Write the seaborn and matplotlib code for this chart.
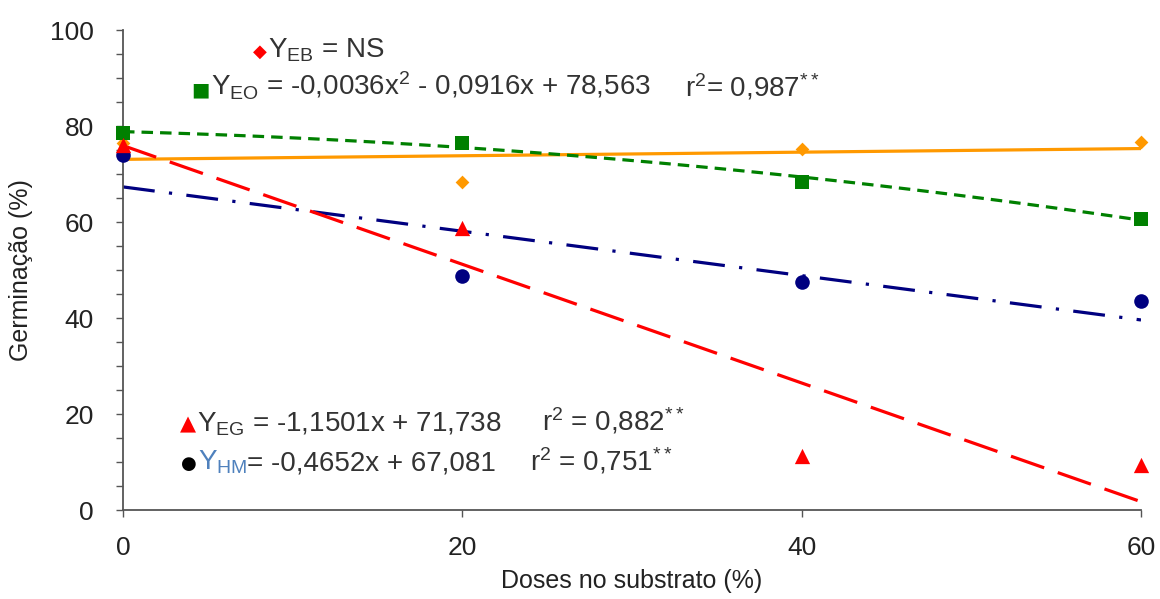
import numpy as np
import pandas as pd
import matplotlib
matplotlib.use("Agg")
import matplotlib.pyplot as plt
import seaborn as sns

# ---- data ----
doses = [0, 20, 40, 60]
eb = [76.5, 68.3, 75.2, 76.7]   # orange diamonds (NS)
eo = [78.5, 76.5, 68.4, 60.7]   # green squares (quadratic)
eg = [76.0, 58.7, 11.2, 9.4]    # red triangles (linear)
hm = [74.0, 48.7, 47.5, 43.6]   # navy circles (linear)

x_ticks = [0, 20, 40, 60]
y_ticks = [0, 20, 40, 60, 80, 100]

sns.set_theme(style="white")
plt.rcParams['font.family'] = ['Liberation Sans', 'DejaVu Sans']
plt.rcParams['mathtext.fontset'] = 'custom'
plt.rcParams['mathtext.rm'] = 'Liberation Sans'
plt.rcParams['mathtext.it'] = 'Liberation Sans'

W, H = 1160, 599
fig = plt.figure(figsize=(W / 100, H / 100), dpi=100)
ax = fig.add_axes([123 / W, 1 - 510 / H, (1141 - 123) / W, (510 - 30) / H])

df = pd.DataFrame({"dose": doses, "eb": eb, "eo": eo, "eg": eg, "hm": hm})

C_OR = "#FF9900"
C_GR = "#008000"
C_RD = "#FF0000"
C_NV = "#000080"
lw = 2.3

series = [
    ("eb", 1, C_OR, "D", 7, "-", 2.6),
    ("hm", 1, C_NV, "o", 10.5, (0, (10, 4.5, 1, 4.5)), 3),
    ("eg", 1, C_RD, "^", 11, (0, (11, 4.5)), 3.2),
    ("eo", 2, C_GR, "s", 10, (0, (3.6, 2.2)), 3.1),
]
for col, order, color, marker, ms, ls, z in series:
    sns.regplot(data=df, x="dose", y=col, order=order, ci=None, ax=ax,
                marker=marker, color=color,
                scatter_kws={"s": ms ** 2, "zorder": z, "linewidths": 0,
                             "alpha": 1, "clip_on": False},
                line_kws={"lw": lw, "ls": ls, "zorder": 2})

ax.set_xlim(0, 60)
ax.set_ylim(0, 100)
ax.set_xticks(x_ticks)
ax.set_yticks(y_ticks)
ax.set_yticks(np.arange(0, 101, 5), minor=True)
ax.set_xticklabels([str(v) for v in x_ticks], fontsize=19, color="#222222")
ax.set_yticklabels([str(v) for v in y_ticks], fontsize=19, color="#222222")
ax.tick_params(axis="y", which="both", direction="out", length=5, width=1,
               color="#555555", left=True, pad=16)
ax.tick_params(axis="x", which="major", direction="out", length=5, width=1,
               color="#555555", bottom=True, pad=14)
ax.set_xlabel("Doses no substrato (%)", fontsize=18, color="#222222", labelpad=6)
ax.set_ylabel("Germinação (%)", fontsize=18, color="#222222", labelpad=12)
for s in ["top", "right"]:
    ax.spines[s].set_visible(False)
for s in ["left", "bottom"]:
    ax.spines[s].set_color("#555555")
    ax.spines[s].set_linewidth(1.3)

# ---- equation annotations ----
fig.canvas.draw()
renderer = fig.canvas.get_renderer()
FS = 20
TXT = "#333333"
LIB = ['Liberation Sans', 'DejaVu Sans']
DJ = ['DejaVu Sans']


def put(x_px, base_px, txt, color, fam, fs, ha="left"):
    t = fig.text(x_px / W, 1 - base_px / H, txt, color=color, fontsize=fs,
                 family=fam, ha=ha, va="baseline")
    return t.get_window_extent(renderer).x1


def line(sym, sym_color, sym_fs, x_px, base_px, pieces, gap=0, r_txt=None):
    put(x_px - 1, base_px - 1, sym, sym_color, DJ, sym_fs, ha="right")
    x = x_px
    for txt, color in pieces:
        x = put(x, base_px, txt, color, LIB, FS)
    if r_txt is not None:
        put(x + gap, base_px, r_txt, TXT, LIB, FS)


line("◆", C_RD, 13, 268, 58, [(r"Y$_{\mathregular{EB}}$ = NS", TXT)])
line("■", C_GR, 14, 211, 96,
     [(r"Y$_{\mathregular{EO}}$ = -0,0036x$^{\mathregular{2}}$ - 0,0916x + 78,563", TXT)],
     34, r"r$^{\mathregular{2}}$= 0,987$^{\mathregular{**}}$")
line("▲", C_RD, 15, 197, 431,
     [(r"Y$_{\mathregular{EG}}$ = -1,1501x + 71,738", TXT)],
     40, r"r$^{\mathregular{2}}$ = 0,882$^{\mathregular{**}}$")
line("●", "#000000", 13, 198, 470,
     [(r"Y$_{\mathregular{HM}}$", "#4F81BD"),
      (r"= -0,4652x + 67,081", TXT)],
     34, r"r$^{\mathregular{2}}$ = 0,751$^{\mathregular{**}}$")

fig.savefig("out.png", dpi=100)
